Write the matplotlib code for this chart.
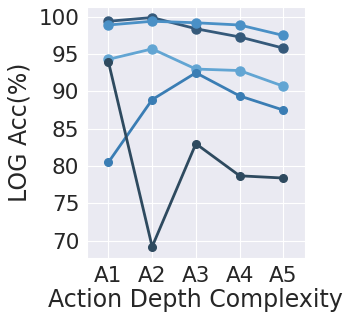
import matplotlib
matplotlib.use("Agg")
import matplotlib.pyplot as plt
import seaborn as sns

sns.set_style("darkgrid")

depths = ["A1", "A2", "A3", "A4", "A5"]

# one list per model run
run_a = [99.4, 99.9, 98.4, 97.3, 95.8]
run_b = [98.9, 99.4, 99.2, 98.9, 97.5]
run_c = [94.3, 95.7, 93.0, 92.8, 90.7]
run_d = [80.5, 88.9, 92.5, 89.4, 87.5]
run_e = [94.0, 69.2, 83.0, 78.7, 78.4]

fig = plt.figure(figsize=(3.52, 3.22), dpi=100)
ax = fig.add_axes([0.247, 0.199, 0.619, 0.779])

x = range(len(depths))
ax.plot(x, run_a, color="#35597a", lw=2, marker="o", ms=6.5)
ax.plot(x, run_b, color="#4a90c6", lw=2, marker="o", ms=6.5)
ax.plot(x, run_c, color="#62a5d3", lw=2, marker="o", ms=6.5)
ax.plot(x, run_d, color="#3a7db4", lw=2, marker="o", ms=5.5)
ax.plot(x, run_e, color="#2e4a5f", lw=2, marker="o", ms=5.5)

ax.set_xticks(list(x))
ax.set_xticklabels(depths)
ax.set_xlim(-0.49, 4.49)
ax.set_ylim(67.7, 101.3)
ax.set_yticks([70, 75, 80, 85, 90, 95, 100])
ax.tick_params(labelsize=15.5, pad=2)
ax.set_xlabel("Action Depth Complexity", fontsize=17, labelpad=2)
ax.set_ylabel("LOG Acc(%)", fontsize=17, labelpad=5)

fig.savefig("out.png", dpi=100)
